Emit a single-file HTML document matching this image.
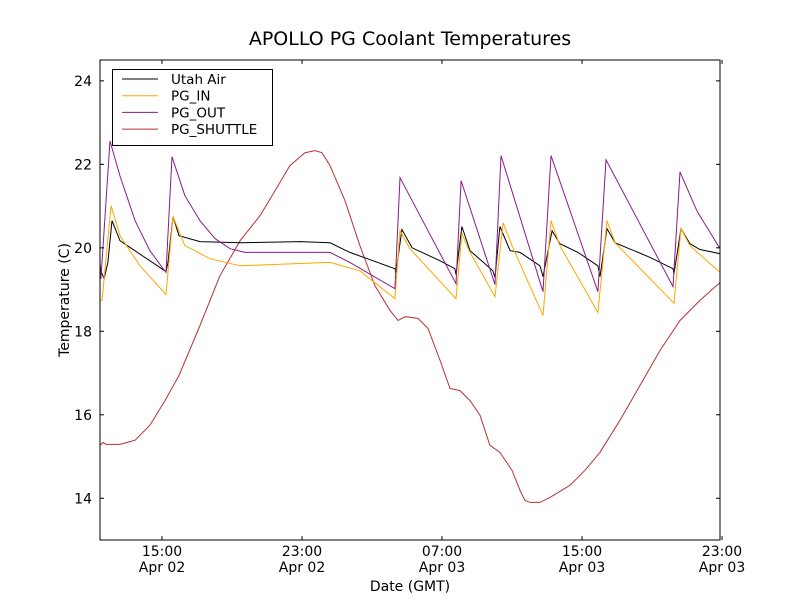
<!DOCTYPE html>
<html><head><meta charset="utf-8"><style>
body{margin:0;background:#fff;font-family:"Liberation Sans","DejaVu Sans",sans-serif}
svg text{font-family:"DejaVu Sans","Liberation Sans",sans-serif}
</style></head><body>
<svg id="chart" width="800" height="600" xmlns="http://www.w3.org/2000/svg"></svg>
<script>
const tickHours=[15,23,31,39,47];
const tickTimes=["15:00","23:00","07:00","15:00","23:00"];
const tickDates=["Apr 02","Apr 02","Apr 03","Apr 03","Apr 03"];
const yTicks=[14,16,18,20,22,24];
const seriesNames=["Utah Air","PG_IN","PG_OUT","PG_SHUTTLE"];
const seriesColors=["#000000","#ffa500","#8b1a8b","#b83232"];
const airT=[11.46,11.51,11.69,11.91,12.14,12.6,15.23,15.34,15.63,15.97,17.17,19.46,22.89,24.6,25.74,28.31,28.37,28.71,29.29,30.89,31.74,31.8,32.14,32.6,33.46,33.91,34.03,34.31,34.89,35.46,36.6,36.77,37.29,37.74,38.77,39.91,40.03,40.43,40.89,42.89,44.2,44.26,44.66,45.17,45.74,46.89];
const airV=[19.57,19.45,19.26,19.65,20.65,20.17,19.43,19.65,20.75,20.29,20.15,20.12,20.15,20.12,19.89,19.5,19.41,20.44,20.0,19.69,19.5,19.36,20.51,19.93,19.62,19.45,19.29,20.51,19.93,19.89,19.57,19.31,20.41,20.1,19.89,19.57,19.31,20.46,20.12,19.77,19.5,19.38,20.46,20.1,19.96,19.86];
const inT=[11.46,11.57,12.09,12.6,13.74,15.23,15.63,16.31,17.74,19.46,24.6,26.31,28.31,28.6,29.17,31.8,32.14,32.6,34.03,34.49,35,36.77,37.23,37.74,39.91,40.43,40.89,44.26,44.66,45.17,46.89];
const inV=[18.74,18.74,21.01,20.29,19.57,18.88,20.75,20.05,19.74,19.57,19.65,19.45,18.78,20.41,19.98,18.78,20.34,19.89,18.83,20.6,20.05,18.38,20.65,20.05,18.45,20.65,20.12,18.67,20.46,20.05,19.41];
const outT=[11.46,11.51,12.03,12.6,13.46,14.31,15.23,15.57,16.31,17.17,18.03,18.89,19.74,24.6,25.74,28.31,28.6,31.8,32.09,34.03,34.37,36.77,37.23,39.91,40.37,44.2,44.6,45.51,45.63,46.89];
const outV=[19.62,19.26,22.56,21.72,20.65,19.93,19.41,22.18,21.25,20.65,20.22,19.98,19.89,19.89,19.65,19.02,21.68,19.14,21.61,19.12,22.21,18.95,22.21,18.95,22.11,19.07,21.82,20.94,20.84,19.98];
const shT=[11.46,11.63,11.8,12.6,13.46,14.31,15.17,15.97,17.17,18.31,19.46,20.6,21.46,22.31,23.17,23.74,24.14,24.6,25.46,26.31,27.17,28.03,28.49,28.89,29.63,30.2,30.89,31.46,32.03,32.6,33.17,33.74,34.31,35,35.46,35.74,36.03,36.6,37.17,38.31,39.17,40.03,41.17,42.31,43.46,44.6,45.74,46.89];
const shV=[15.27,15.34,15.29,15.29,15.39,15.75,16.34,16.94,18.14,19.33,20.17,20.77,21.37,21.97,22.28,22.33,22.28,21.97,21.13,20.05,19.09,18.5,18.26,18.35,18.31,18.07,17.3,16.63,16.58,16.34,15.99,15.27,15.1,14.67,14.19,13.95,13.9,13.9,14.02,14.31,14.67,15.1,15.87,16.7,17.54,18.26,18.74,19.17];

const NS="http://www.w3.org/2000/svg";
const svg=document.getElementById('chart');
const L=100,R=720,T=60,B=540;
const xMin=11.457,xMax=46.886,yMin=13,yMax=24.5;
const xs=h=>L+(h-xMin)/(xMax-xMin)*(R-L);
const ys=v=>B-(v-yMin)/(yMax-yMin)*(B-T);
function mk(tag,attrs,parent){const e=document.createElementNS(NS,tag);for(const k in attrs)e.setAttribute(k,attrs[k]);(parent||svg).appendChild(e);return e;}
function txt(s,attrs){const e=mk('text',attrs);e.textContent=s;return e;}

const t1=txt("APOLLO PG Coolant Temperatures",{x:410,y:45,'text-anchor':'middle','font-size':19});



const clip=mk('clipPath',{id:'pc'});mk('rect',{x:L,y:T,width:R-L,height:B-T},clip);
const plot=mk('g',{'clip-path':'url(#pc)'});


const dataT=[airT,inT,outT,shT],dataV=[airV,inV,outV,shV];
const order=[3,0,1,2];
order.forEach(i=>{
  const d=dataT[i].map((t,j)=>(j?'L':'M')+xs(t).toFixed(1)+','+ys(dataV[i][j]).toFixed(1)).join('');
  const p=mk('path',{d:d,fill:'none',stroke:seriesColors[i],'stroke-width':1},plot);
  
  
});

const frame=mk('rect',{x:L,y:T,width:R-L,height:B-T,fill:'none',stroke:'#000','stroke-width':1});



yTicks.forEach(v=>{
  const y=ys(v);
  mk('line',{x1:L,x2:L+4,y1:y,y2:y,stroke:'#000'});
  mk('line',{x1:R-4,x2:R,y1:y,y2:y,stroke:'#000'});
  const t=txt(String(v),{x:L-8,y:y+5,'text-anchor':'end','font-size':14});
  
  
});
tickHours.forEach((h,i)=>{
  const x=xs(h);
  mk('line',{x1:x,x2:x,y1:B,y2:B-4,stroke:'#000'});
  mk('line',{x1:x,x2:x,y1:T,y2:T+4,stroke:'#000'});
  const a=txt(tickTimes[i],{x:x,y:556,'text-anchor':'middle','font-size':14});
  
  
  const b=txt(tickDates[i],{x:x,y:572,'text-anchor':'middle','font-size':14});
  
  
});
const xl=txt("Date (GMT)",{x:410,y:591,'text-anchor':'middle','font-size':14});


const yl=txt("Temperature (C)",{x:0,y:0,'text-anchor':'middle','font-size':14,transform:'translate(69,300) rotate(-90)'});



const lg=mk('g',{});


mk('rect',{x:112.5,y:69.5,width:160,height:76,fill:'#fff',stroke:'#000'},lg);
seriesNames.forEach((n,i)=>{
  const y=79+i*16.7;
  const en=mk('g',{},lg);
  
  
  mk('line',{x1:122,x2:158,y1:y,y2:y,stroke:seriesColors[i],'stroke-width':1},en);
  const t=mk('text',{x:171,y:y+5,'font-size':13.5},en);t.textContent=n;
});
</script>
</body></html>
